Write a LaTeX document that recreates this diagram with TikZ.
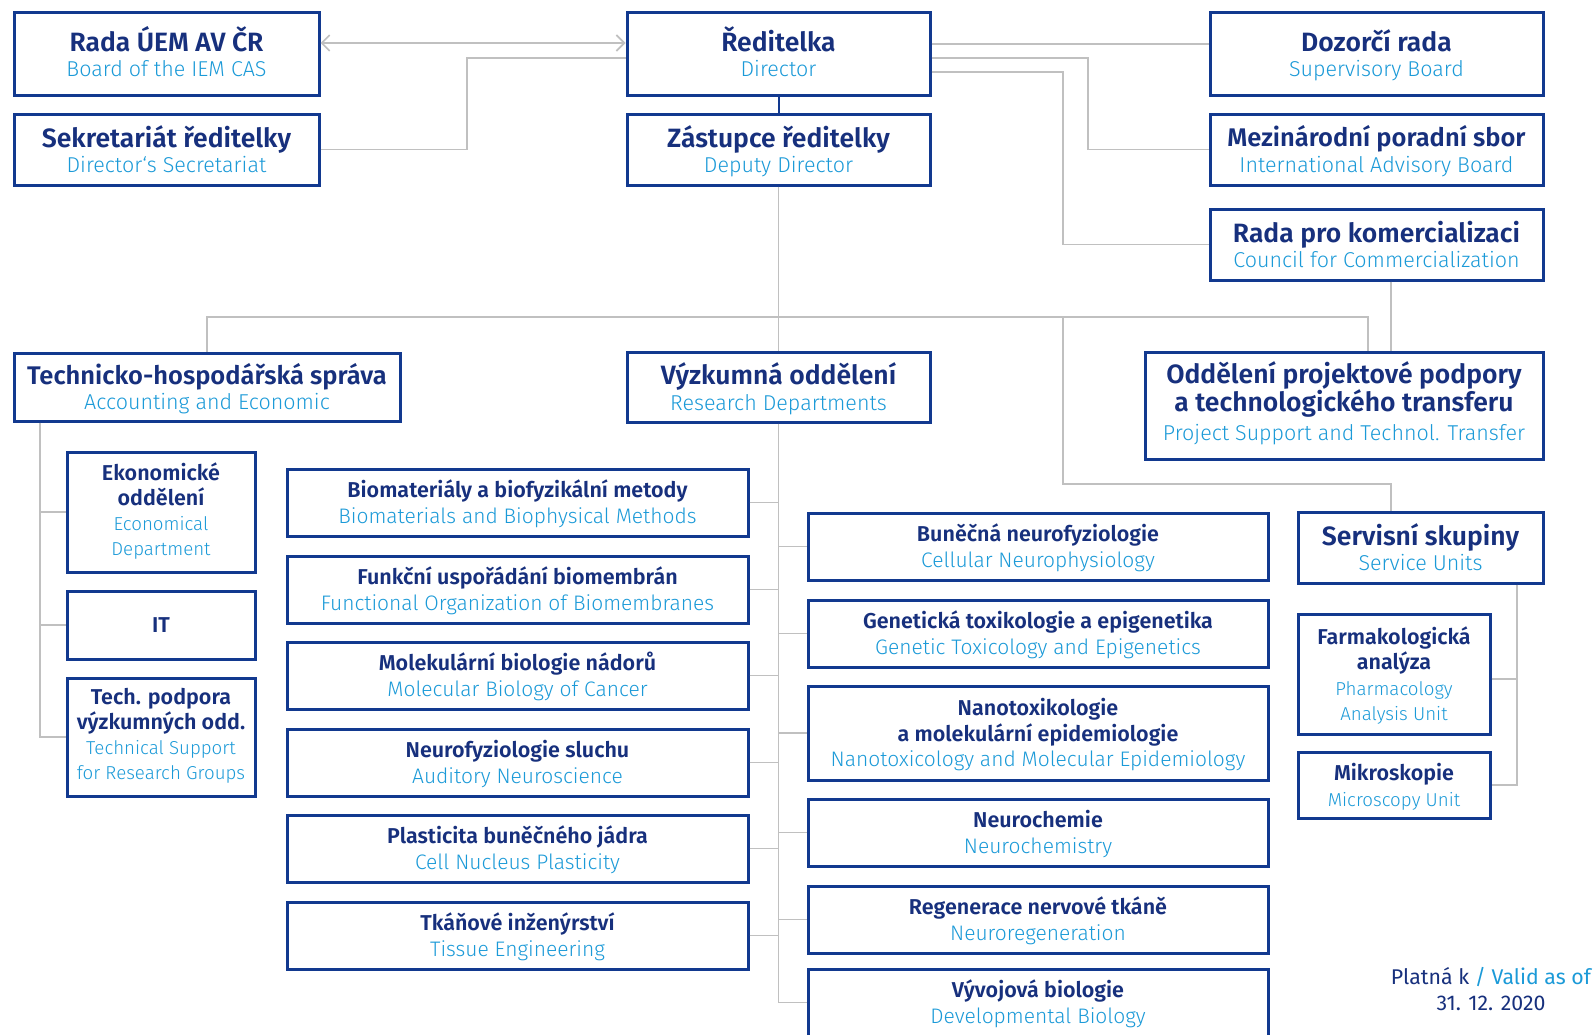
\documentclass[tikz,border=0pt]{standalone}
\usepackage{fontspec}
\setmainfont{Fira Sans}
\newfontfamily\semib{Fira Sans SemiBold}
\newfontfamily\lightf{Fira Sans Light}
\usetikzlibrary{arrows.meta,calc}
\definecolor{navy}{HTML}{17307D}
\definecolor{sky}{HTML}{1B9AD8}
\definecolor{boxblue}{HTML}{12398F}
\definecolor{lgray}{HTML}{C0C0C0}
\lineskiplimit=-100pt\relax
\lineskip=0pt\relax
\newcommand\ttl[1]{{\color{navy}\semib\vphantom{Ú}#1}}
\newcommand\sbt[1]{{\color{sky}\lightf #1\vphantom{g}}}
\newcommand\bttl[1]{{\fontsize{26.5}{25.5}\selectfont\ttl{#1}}}
\newcommand\mttl[1]{{\fontsize{25.5}{25.5}\selectfont\ttl{#1}}}
\newcommand\sttl[1]{{\fontsize{21.5}{25.5}\selectfont\ttl{#1}}}
\newcommand\bsub[1]{{\fontsize{21.5}{25.5}\selectfont\sbt{#1}}}
\newcommand\csub[1]{{\fontsize{21}{25.5}\selectfont\sbt{#1}}}
\newcommand\ssub[1]{{\fontsize{18.7}{23.5}\selectfont\sbt{#1}}}
\newcommand\lift[1]{\rule[-#1]{0pt}{1pt}}
\tikzset{
  orgbox/.style={draw=boxblue, line width=3pt, fill=white, inner sep=0pt, align=center},
  bigbox/.style={orgbox, font=\fontsize{26.5}{25.5}\selectfont},
  smallbox/.style={orgbox, font=\fontsize{21.5}{25.5}\selectfont},
  conn/.style={draw=lgray, line width=1.6pt},
}
\begin{document}
\begin{tikzpicture}[x=1pt,y=-1pt]
\lineskiplimit=-100pt\relax
\lineskip=0pt\relax
\useasboundingbox[fill=white] (0,0) rectangle (1596,1034);
% top level
\node[bigbox, minimum width=305pt, minimum height=83pt] (rada) at (166.5,53.5) {\bttl{Rada ÚEM AV ČR}\\\bsub{Board of the IEM CAS}};
\node[bigbox, minimum width=305pt, minimum height=71pt] (sekr) at (166.5,149.5) {\bttl{Sekretariát ředitelky}\\\bsub{Director‘s Secretariat}};
\node[bigbox, minimum width=303pt, minimum height=83pt] (red) at (778.5,53.5) {\bttl{Ředitelka}\\\bsub{Director}};
\node[bigbox, minimum width=303pt, minimum height=71pt] (zast) at (778.5,149.5) {\bttl{Zástupce ředitelky}\\\bsub{Deputy Director}};
\node[bigbox, minimum width=333pt, minimum height=83pt] (dozor) at (1376.5,53.5) {\bttl{Dozorčí rada}\\\bsub{Supervisory Board}};
\node[bigbox, minimum width=333pt, minimum height=71pt] (mezi) at (1376.5,149.5) {\mttl{Mezinárodní poradní sbor}\\\bsub{International Advisory Board}};
\node[bigbox, minimum width=333pt, minimum height=71pt] (komerc) at (1376.5,244.5) {\bttl{Rada pro komercializaci}\\\bsub{Council for Commercialization}};
% second level
\node[bigbox, minimum width=386pt, minimum height=68pt] (tech) at (207,387) {\mttl{Technicko-hospodářská správa}\\\bsub{Accounting and Economic}};
\node[bigbox, minimum width=303pt, minimum height=70pt] (vyzk) at (778.5,387) {\bttl{Výzkumná oddělení}\\\bsub{Research Departments}};
\node[orgbox, font=\fontsize{26.5}{28.5}\selectfont, minimum width=398pt, minimum height=107pt] (odd) at (1344,405.5) {{\fontsize{26.5}{28.5}\selectfont\ttl{Oddělení projektové podpory}}\\{\fontsize{26.5}{29.5}\selectfont\ttl{a technologického transferu}}\\{\fontsize{21.5}{29.5}\selectfont\sbt{Project Support and Technol. Transfer}\lift{13pt}}};
% accounting children
\node[smallbox, font=\fontsize{21.5}{25}\selectfont, minimum width=188pt, minimum height=120pt] (ekon) at (161,512) {\sttl{Ekonomické}\\\sttl{oddělení}\\\ssub{Economical}\\\ssub{Department}\lift{8pt}};
\node[smallbox, minimum width=188pt, minimum height=68pt] (it) at (161,625) {{\fontsize{21.5}{25.5}\selectfont\color{navy}\semib IT}};
\node[smallbox, font=\fontsize{21.5}{25}\selectfont, minimum width=188pt, minimum height=118pt] (techp) at (161,737) {\sttl{Tech. podpora}\\\sttl{výzkumných odd.}\\\ssub{Technical Support}\\\ssub{for Research Groups}\lift{10pt}};
% research left column
\node[smallbox, minimum width=461pt, minimum height=67pt] (bio) at (517.5,502.5) {\sttl{Biomateriály a biofyzikální metody}\\\csub{Biomaterials and Biophysical Methods}};
\node[smallbox, minimum width=461pt, minimum height=67pt] (fun) at (517.5,589.5) {\sttl{Funkční uspořádání biomembrán}\\\csub{Functional Organization of Biomembranes}};
\node[smallbox, minimum width=461pt, minimum height=67pt] (mol) at (517.5,675.5) {\sttl{Molekulární biologie nádorů}\\\csub{Molecular Biology of Cancer}};
\node[smallbox, minimum width=461pt, minimum height=67pt] (slu) at (517.5,762.5) {\sttl{Neurofyziologie sluchu}\\\csub{Auditory Neuroscience}};
\node[smallbox, minimum width=461pt, minimum height=67pt] (pla) at (517.5,848.5) {\sttl{Plasticita buněčného jádra}\\\csub{Cell Nucleus Plasticity}};
\node[smallbox, minimum width=461pt, minimum height=67pt] (tka) at (517.5,935.5) {\sttl{Tkáňové inženýrství}\\\csub{Tissue Engineering}};
% research right column
\node[smallbox, minimum width=460pt, minimum height=67pt] (bun) at (1038,546.5) {\sttl{Buněčná neurofyziologie}\\\csub{Cellular Neurophysiology}};
\node[smallbox, minimum width=460pt, minimum height=67pt] (gen) at (1038,633.5) {\sttl{Genetická toxikologie a epigenetika}\\\csub{Genetic Toxicology and Epigenetics}};
\node[smallbox, minimum width=460pt, minimum height=94pt] (nano) at (1038,733) {\sttl{Nanotoxikologie}\\\sttl{a molekulární epidemiologie}\\\csub{Nanotoxicology and Molecular Epidemiology}};
\node[smallbox, minimum width=460pt, minimum height=67pt] (nch) at (1038,832.5) {\sttl{Neurochemie}\\\csub{Neurochemistry}};
\node[smallbox, minimum width=460pt, minimum height=67pt] (reg) at (1038,919.5) {\sttl{Regenerace nervové tkáně}\\\csub{Neuroregeneration}};
\node[smallbox, minimum width=460pt, minimum height=67pt] (vyv) at (1038,1002.5) {\sttl{Vývojová biologie}\\\csub{Developmental Biology}};
% service units
\node[bigbox, minimum width=245pt, minimum height=71pt] (serv) at (1420.5,547.5) {\bttl{Servisní skupiny}\\\bsub{Service Units}};
\node[smallbox, minimum width=192pt, minimum height=120pt] (farm) at (1394,674) {\sttl{Farmakologická}\\\sttl{analýza}\\\ssub{Pharmacology}\\\ssub{Analysis Unit}};
\node[smallbox, minimum width=192pt, minimum height=66pt] (mikro) at (1394,785) {\sttl{Mikroskopie}\\\ssub{Microscopy Unit}};
% validity note
\node[align=center, font=\fontsize{21.3}{26}\selectfont] (valid) at (1491,989.5) {{\color{navy}Platná k} {\color{sky}/ Valid as of}\\{\color{navy}31. 12. 2020}};
% junction coordinates
\coordinate (j1) at (467,58);
\coordinate (j2) at (1088,58);
\coordinate (j3) at (1063,72);
\coordinate (busL) at (207,317);
\coordinate (busR) at (1368,317);
\coordinate (sx) at (1391,484);
\coordinate (tl) at (40,736);
\coordinate (sr) at (1517,785);
% connectors, top
\draw[conn, {Straight Barb[length=8pt,width=16pt]}-{Straight Barb[length=8pt,width=16pt]}] ([yshift=10.5pt]rada.east) -- ([yshift=10.5pt]red.west);
\draw[conn] (sekr.east) -| (j1) -- (red.west |- j1);
\draw[conn] ([yshift=9.5pt]red.east) -- ([yshift=9.5pt]dozor.west);
\draw[conn] (red.east |- j2) -- (j2) |- (mezi.west);
\draw[conn] (red.east |- j3) -- (j3) |- (komerc.west);
\draw[draw=boxblue, line width=2pt] (red.south) -- (zast.north);
\draw[conn] (zast.south) -- (vyzk.north);
\draw[conn] (tech.north) |- (busR) -- (odd.north -| busR);
\draw[conn] (komerc.south -| sx) -- (odd.north -| sx);
\draw[conn] (busL -| j3) |- (sx) -- (serv.north -| sx);
% accounting
\draw[conn] (tech.south -| tl) |- (techp.west);
\draw[conn] (tl |- ekon.west) -- (ekon.west);
\draw[conn] (tl |- it.west) -- (it.west);
% research
\draw[conn] (vyzk.south) -- (vyzk.south |- vyv.west) -- (vyv.west);
\foreach \n in {bio,fun,mol,slu,pla,tka} \draw[conn] (\n.east) -- (\n.east -| vyzk.south);
\foreach \n in {bun,gen,nano,nch,reg} \draw[conn] (vyzk.south |- \n.west) -- (\n.west);
% service
\draw[conn] (serv.south -| sr) -- (sr) -- (mikro.east |- sr);
\draw[conn] ([yshift=-5pt]farm.east) -- ([yshift=-5pt]farm.east -| sr);
\end{tikzpicture}
\end{document}
